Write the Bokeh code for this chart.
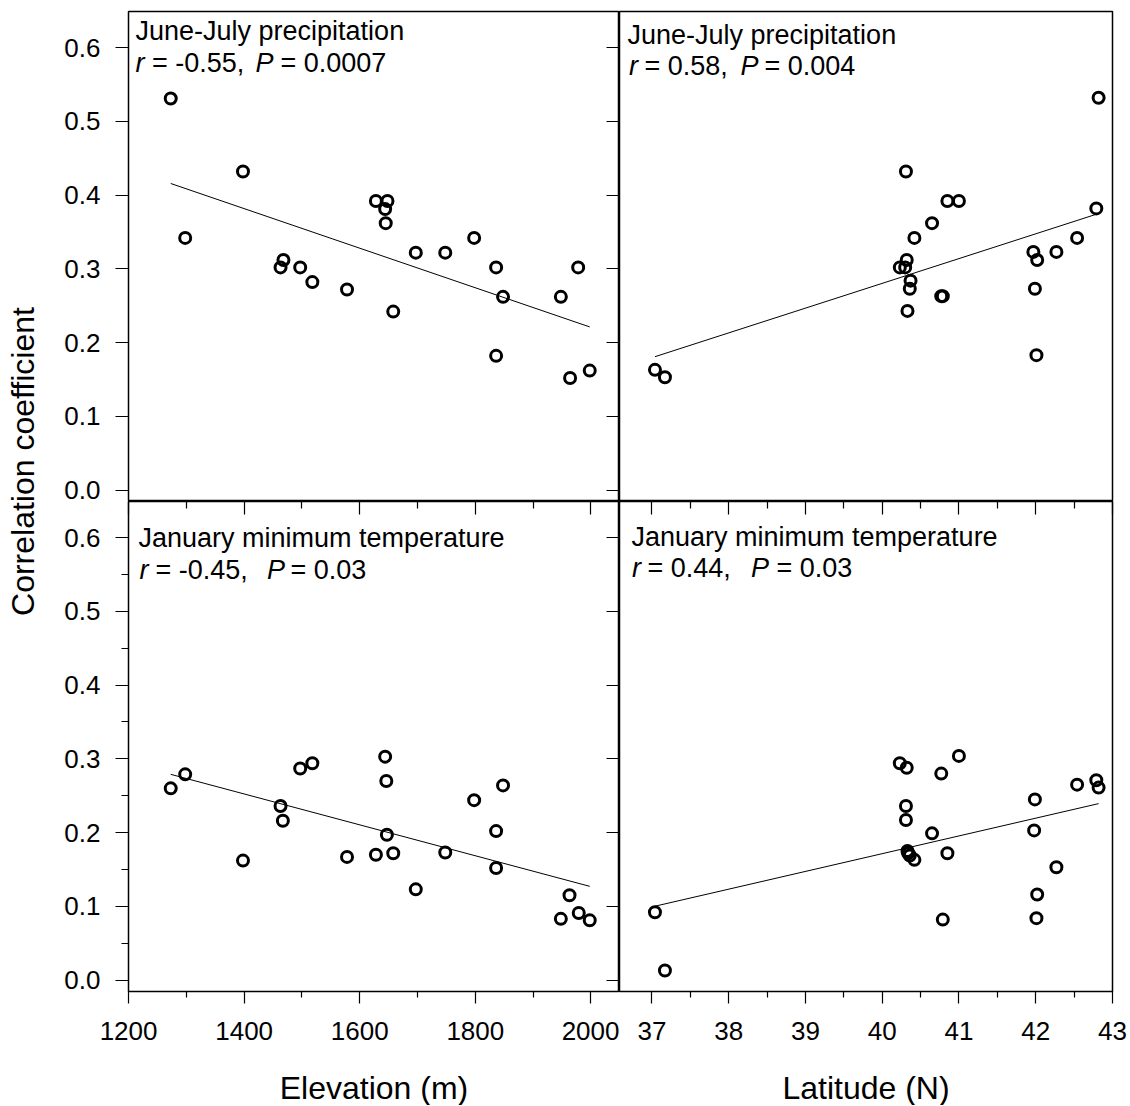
import numpy as np
from bokeh.plotting import figure
from bokeh.layouts import row, column
from bokeh.models import Range1d, LinearAxis, FixedTicker, PrintfTickFormatter, Label
from bokeh.embed import file_html
from bokeh.resources import INLINE

FONT = "Liberation Sans"

# ---------------- data ----------------
# June-July precipitation vs elevation
elev_p = [1273, 1298, 1398, 1463, 1468, 1497, 1518, 1578, 1628, 1648, 1644, 1645,
          1658, 1697, 1748, 1798, 1836, 1848, 1836, 1948, 1978, 1964, 1998]
r_elev_p = [0.531, 0.342, 0.432, 0.302, 0.312, 0.302, 0.282, 0.272, 0.392, 0.392, 0.381, 0.362,
            0.242, 0.322, 0.322, 0.342, 0.302, 0.262, 0.182, 0.262, 0.302, 0.152, 0.162]
fit_elev_p = (-2.683e-4, 0.7573)   # slope, intercept

# June-July precipitation vs latitude
lat_p = [42.82, 40.31, 40.85, 41.00, 42.79, 40.65, 40.42, 42.54, 41.97, 42.02, 42.27, 40.32,
         40.23, 40.30, 40.37, 40.36, 40.77, 40.79, 41.99, 40.33, 42.01, 37.04, 37.17]
r_lat_p = [0.532, 0.432, 0.392, 0.392, 0.382, 0.362, 0.342, 0.342, 0.323, 0.312, 0.323, 0.312,
           0.302, 0.302, 0.284, 0.273, 0.263, 0.263, 0.273, 0.243, 0.183, 0.163, 0.153]
fit_lat_p = (0.03359, -1.0633)

# January minimum temperature vs elevation
elev_t = [1273, 1298, 1398, 1463, 1467, 1497, 1518, 1578, 1628, 1644, 1646, 1647,
          1658, 1697, 1748, 1798, 1836, 1848, 1836, 1963, 1948, 1979, 1998]
r_elev_t = [0.260, 0.279, 0.162, 0.236, 0.216, 0.287, 0.294, 0.167, 0.170, 0.303, 0.270, 0.197,
            0.172, 0.123, 0.173, 0.244, 0.202, 0.264, 0.152, 0.115, 0.083, 0.091, 0.081]
fit_elev_t = (-2.095e-4, 0.5457)

# January minimum temperature vs latitude
lat_t = [40.23, 40.32, 41.00, 40.77, 42.79, 42.82, 42.54, 41.99, 40.31, 40.31, 40.65, 41.98,
         40.33, 40.36, 40.42, 40.85, 42.27, 42.02, 42.01, 40.79, 37.04, 37.17, 40.34]
r_lat_t = [0.294, 0.288, 0.304, 0.280, 0.271, 0.261, 0.265, 0.245, 0.236, 0.217, 0.199, 0.203,
           0.175, 0.169, 0.163, 0.172, 0.153, 0.116, 0.084, 0.082, 0.092, 0.013, 0.172]
fit_lat_t = (0.02407, -0.7914)

# ticks
r_ticks = [0.0, 0.1, 0.2, 0.3, 0.4, 0.5, 0.6]
r_minor = [0.05, 0.15, 0.25, 0.35, 0.45, 0.55]
elev_ticks = [1200, 1400, 1600, 1800, 2000]
elev_minor = [1300, 1500, 1700, 1900]
lat_ticks = [37, 38, 39, 40, 41, 42, 43]
lat_minor = [37.5, 38.5, 39.5, 40.5, 41.5, 42.5]

# texts
title_p = "June-July precipitation"
title_t = "January minimum temperature"
stats_elev_p = ["r", "= -0.55,", "P", "= 0.0007"]
stats_lat_p = ["r", "= 0.58,", "P", "= 0.004"]
stats_elev_t = ["r", "=  -0.45,", "P", "= 0.03"]
stats_lat_t = ["r", "=  0.44,", "P", "= 0.03"]
xlabel_elev = "Elevation (m)"
xlabel_lat = "Latitude (N)"
ylabel = "Correlation coefficient"

# ---------------- layout helpers ----------------
ELEV_RANGE = (1199.9, 2049.5)
LAT_RANGE = (36.578, 43.001)
R_RANGE = (-0.0155, 0.649)
FH = 490
FW_L, FW_R = 491, 493
TOP = 11
BOTTOM = 62
XL_H = 52
LEFT_COL = 48
BORDER_L = 80
BORDER_R = 16
ANN_FS = 27
TITLE_FS = 32
MID = 0.3465 * ANN_FS        # baseline lies this far below a 'middle' anchor
TITLE_MID = 0.3465 * TITLE_FS


def make_fig(xr, fw, left, right, top, bottom):
    p = figure(frame_width=fw, frame_height=FH,
               x_range=Range1d(*xr), y_range=Range1d(*R_RANGE),
               min_border_left=left, min_border_right=right,
               min_border_top=top, min_border_bottom=bottom,
               output_backend="svg", toolbar_location=None,
               x_axis_location=None, y_axis_location=None)
    p.outline_line_color = "black"
    p.outline_line_width = 1.5
    p.outline_line_alpha = 1.0
    p.background_fill_color = "white"
    p.border_fill_color = "white"
    p.grid.visible = False
    return p


def add_axis(p, side, ticks, minor=None, out=0, tin=0, mout=0, min_in=0,
             labels=False, fmt="%.1f", standoff=15):
    ax = LinearAxis(ticker=FixedTicker(ticks=ticks, minor_ticks=minor or []))
    ax.axis_line_color = None
    ax.major_tick_line_color = "black"
    ax.major_tick_line_width = 1.2
    ax.minor_tick_line_color = "black"
    ax.minor_tick_line_width = 1.2
    ax.major_tick_out = out
    ax.major_tick_in = tin
    ax.minor_tick_out = mout
    ax.minor_tick_in = min_in
    if labels:
        ax.formatter = PrintfTickFormatter(format=fmt)
        ax.major_label_text_font = FONT
        ax.major_label_text_font_size = "26px"
        ax.major_label_text_color = "black"
        ax.major_label_standoff = standoff
    else:
        ax.major_label_text_font_size = "0px"
        ax.major_label_text_alpha = 0
        ax.major_label_standoff = 0
    p.add_layout(ax, side)
    return ax


def add_label(p, xr, dx, baseline_dy, text, italic=False):
    p.add_layout(Label(x=xr[0], y=R_RANGE[1], x_offset=dx, y_offset=-(baseline_dy - MID),
                       text=text, text_font=FONT, text_font_size=f"{ANN_FS}px",
                       text_font_style="italic" if italic else "normal",
                       text_color="black", text_align="left",
                       text_baseline="middle"))


def add_panel_text(p, xr, title, stats, x1, y1, y2, offs):
    add_label(p, xr, x1, y1, title)
    for txt, off, it in zip(stats, offs, [True, False, True, False]):
        add_label(p, xr, off, y2, txt, italic=it)


def draw_data(p, xs, ys, fit):
    lo, hi = min(xs), max(xs)
    fx = np.array([lo, hi])
    fy = fit[0] * fx + fit[1]
    p.line(fx, fy, line_color="black", line_width=1)
    p.scatter(xs, ys, marker="circle", size=11, fill_color=None,
              line_color="black", line_width=3)


def blank_fig(w, h):
    f = figure(frame_width=w, frame_height=h, x_range=Range1d(0, w), y_range=Range1d(0, h),
               min_border=0, output_backend="svg", toolbar_location=None,
               x_axis_location=None, y_axis_location=None)
    f.outline_line_color = None
    f.grid.visible = False
    return f


# ---------------- panels ----------------
tl = make_fig(ELEV_RANGE, FW_L, BORDER_L, 0, TOP, 0)
add_axis(tl, "left", r_ticks, out=13, labels=True)
add_axis(tl, "right", r_ticks, tin=13)
draw_data(tl, elev_p, r_elev_p, fit_elev_p)
add_panel_text(tl, ELEV_RANGE, title_p, stats_elev_p, 7, 29.3, 61, [7, 23.5, 127, 152])

tr = make_fig(LAT_RANGE, FW_R, 0, BORDER_R, TOP, 0)
draw_data(tr, lat_p, r_lat_p, fit_lat_p)
add_panel_text(tr, LAT_RANGE, title_p, stats_lat_p, 8, 33, 64.3, [9.5, 25, 121, 145])

bl = make_fig(ELEV_RANGE, FW_L, BORDER_L, 0, 0, BOTTOM)
add_axis(bl, "left", r_ticks, r_minor, out=13, mout=7, labels=True)
add_axis(bl, "right", r_ticks, tin=13)
add_axis(bl, "above", elev_ticks, elev_minor, tin=13, min_in=7)
add_axis(bl, "below", elev_ticks, elev_minor, out=12, mout=6, labels=True, fmt="%d",
         standoff=18)
draw_data(bl, elev_t, r_elev_t, fit_elev_t)
add_panel_text(bl, ELEV_RANGE, title_t, stats_elev_t, 10, 46, 77.6, [11, 27, 138.5, 162])

br = make_fig(LAT_RANGE, FW_R, 0, BORDER_R, 0, BOTTOM)
add_axis(br, "above", lat_ticks, lat_minor, tin=13, min_in=7)
add_axis(br, "below", lat_ticks, lat_minor, out=12, mout=6, labels=True, fmt="%d",
         standoff=18)
draw_data(br, lat_t, r_lat_t, fit_lat_t)
add_panel_text(br, LAT_RANGE, title_t, stats_lat_t, 12, 45.3, 76.3, [12.5, 28, 131.5, 157])

# x-axis titles row (under both columns)
XL_W = BORDER_L + FW_L + FW_R + BORDER_R
xl = blank_fig(XL_W, XL_H)
xl_base = 6  # baseline height above this strip's bottom
for txt, cx in [(xlabel_elev, BORDER_L + FW_L / 2), (xlabel_lat, BORDER_L + FW_L + FW_R / 2)]:
    xl.add_layout(Label(x=cx, y=xl_base + TITLE_MID, text=txt, text_font=FONT,
                        text_font_size=f"{TITLE_FS}px", text_color="black",
                        text_align="center", text_baseline="middle"))

# y-axis title column
TOTAL_H = TOP + 2 * FH + BOTTOM + XL_H
yl = blank_fig(LEFT_COL, TOTAL_H)
yl.add_layout(Label(x=22.5, y=TOTAL_H - 461, text=ylabel, angle=90,
                    angle_units="deg", text_font=FONT, text_font_size=f"{TITLE_FS}px",
                    text_color="black", text_align="center", text_baseline="middle"))

layout = row(yl, column(row(tl, tr), row(bl, br), xl))
open("out.html", "w").write(file_html(layout, INLINE))
